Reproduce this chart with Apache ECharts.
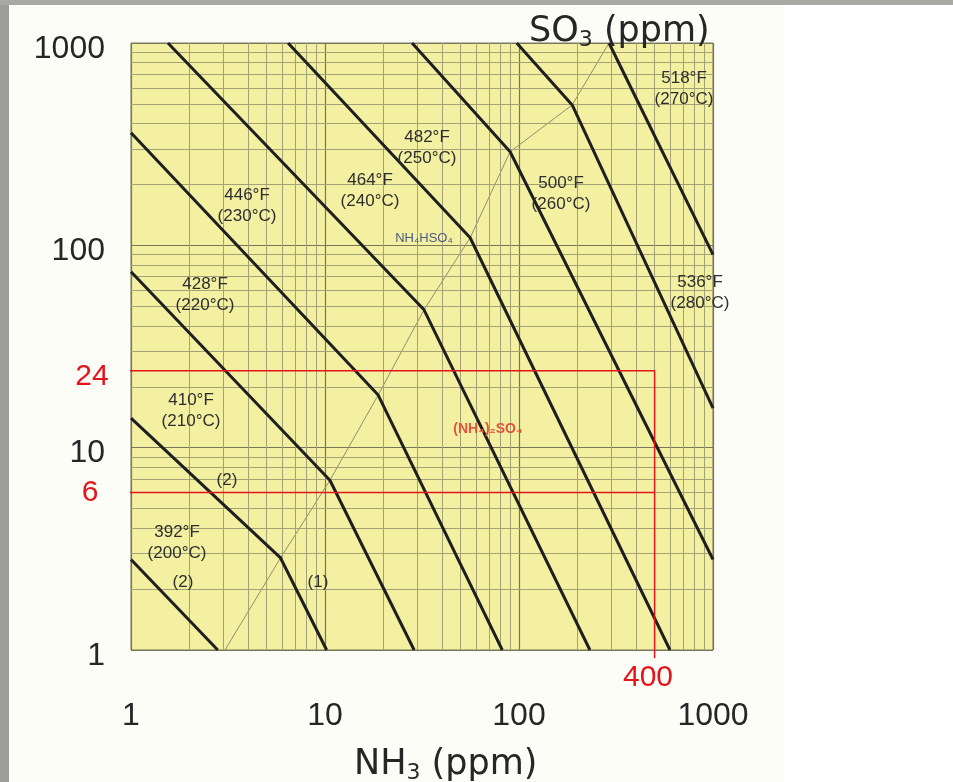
<!DOCTYPE html>
<html>
<head>
<meta charset="utf-8">
<script src="https://cdn.jsdelivr.net/npm/echarts@6/dist/echarts.min.js"></script>
<style>
  html, body { margin: 0; padding: 0; background: #fdfdf7; }
  #chart-container { width: 953px; height: 782px; }
</style>
</head>
<body>
<div id="chart-container"></div>
<script>
// ticks on both log axes
var tickValues = [1, 10, 100, 1000];
var minorValues = [2, 3, 4, 5, 6, 7, 8, 9, 20, 30, 40, 50, 60, 70, 80, 90, 200, 300, 400, 500, 600, 700, 800, 900];

// [NH3 ppm, SO3 ppm], one polyline per temperature
var t392 = [[1, 2.8], [2.8, 1]];
var t410 = [[1, 14], [5.9, 2.85], [10.2, 1]];
var t428 = [[1, 74], [10.6, 6.9], [28.8, 1]];
var t446 = [[1, 360], [18.8, 18.2], [82, 1]];
var t464 = [[1.55, 1000], [32.4, 48], [232, 1]];
var t482 = [[6.45, 1000], [56, 109], [600, 1]];
var t500 = [[28.1, 1000], [90, 290], [1000, 2.8]];
var t518 = [[97.3, 1000], [188, 494], [1000, 15.7]];
var t536 = [[291, 1000], [1000, 90]];

// NH4HSO4 / (NH4)2SO4 boundary
var boundary = [[3.05, 1], [5.9, 2.85], [10.6, 6.9], [18.8, 18.2], [32.4, 48], [56, 109], [90, 290], [188, 494], [291, 1000]];

// red reference lines
var refSO3 = [24, 6];
var refNH3 = 500;      // where the vertical line sits
var refNH3Text = '400'; // what is printed under it
var refStartNH3 = 0.85;
var refEndSO3 = 0.91;

var curves = [t392, t410, t428, t446, t464, t482, t500, t518, t536];
var curveNames = ['392F', '410F', '428F', '446F', '464F', '482F', '500F', '518F', '536F'];

var dom = document.getElementById('chart-container');
var myChart = echarts.init(dom, null, { renderer: 'canvas' });

var labelFont = "'Liberation Sans', Arial, sans-serif";
var textFont = "'Liberation Sans', Arial, sans-serif";

var series = curves.map(function (pts, i) {
  return {
    name: curveNames[i],
    type: 'line',
    data: pts,
    showSymbol: false,
    silent: true,
    lineStyle: { color: '#1f1f1f', width: 3 },
    z: 5
  };
});

series.push({
  name: 'boundary',
  type: 'line',
  data: boundary,
  showSymbol: false,
  silent: true,
  lineStyle: { color: '#8e8e6a', width: 1 },
  z: 4
});

// minor grid, drawn through the axes
series.push({
  name: 'minor',
  type: 'line',
  data: [],
  silent: true,
  markLine: {
    silent: true,
    symbol: 'none',
    label: { show: false },
    lineStyle: { color: '#a3a276', width: 1, type: 'solid' },
    data: minorValues.map(function (v) { return { xAxis: v }; })
      .concat(minorValues.map(function (v) { return { yAxis: v }; }))
  },
  z: 2
});

// red reference lines
series.push({
  name: 'ref24',
  type: 'line',
  clip: false,
  showSymbol: false,
  silent: true,
  data: [[refStartNH3, refSO3[0]], [refNH3, refSO3[0]], [refNH3, refEndSO3]],
  lineStyle: { color: '#e3141b', width: 1.5 },
  z: 6
});
series.push({
  name: 'ref6',
  type: 'line',
  clip: false,
  showSymbol: false,
  silent: true,
  data: [[refStartNH3, refSO3[1]], [refNH3, refSO3[1]]],
  lineStyle: { color: '#e3141b', width: 1.5 },
  z: 6
});

function note(text, x, y, extra) {
  return {
    type: 'text',
    x: x,
    y: y,
    z: 20,
    style: Object.assign({
      text: text,
      font: '17px ' + textFont,
      fill: '#2e2e2e',
      align: 'center',
      verticalAlign: 'middle',
      lineHeight: 21
    }, extra || {})
  };
}

var titleRich = {
  a: { fontSize: 35, fontFamily: 'DejaVu Sans', fontWeight: 'normal', color: '#262626' },
  b: { fontSize: 22, fontFamily: 'DejaVu Sans', fontWeight: 'normal', color: '#262626', padding: [16, 0, 0, 0] }
};

var option = {
  backgroundColor: '#fdfdf7',
  animation: false,
  title: [
    {
      text: '{a|SO}{b|3}{a| (ppm)}',
      left: 524,
      top: 8,
      textStyle: { fontWeight: 'normal', rich: titleRich }
    },
    {
      text: '{a|NH}{b|3}{a| (ppm)}',
      left: 349,
      top: 741,
      textStyle: { fontWeight: 'normal', rich: titleRich }
    }
  ],
  grid: {
    left: 131,
    top: 43,
    width: 582,
    height: 607,
    show: true,
    backgroundColor: '#f3f0a2',
    borderColor: '#7c7b5c',
    borderWidth: 1
  },
  xAxis: {
    type: 'log',
    logBase: 10,
    min: 1,
    max: 1000,
    axisLine: { show: false },
    axisTick: { show: false },
    axisLabel: {
      margin: 50,
      fontSize: 32,
      fontFamily: labelFont,
      color: '#262626',
      formatter: function (v) { return tickValues.indexOf(v) >= 0 ? String(v) : ''; }
    },
    splitLine: { show: true, lineStyle: { color: '#77765a', width: 1.2 } }
  },
  yAxis: {
    type: 'log',
    logBase: 10,
    min: 1,
    max: 1000,
    axisLine: { show: false },
    axisTick: { show: false },
    axisLabel: {
      margin: 26,
      color: '#262626',
      formatter: function (v) { return tickValues.indexOf(v) >= 0 ? '{v|' + v + '}' : ''; },
      rich: {
        v: { fontSize: 32, fontFamily: labelFont, color: '#262626', padding: [12, 0, 0, 0] }
      }
    },
    splitLine: { show: true, lineStyle: { color: '#77765a', width: 1.2 } }
  },
  series: series,
  graphic: [
    // scan edges
    { type: 'rect', shape: { x: 0, y: 0, width: 9, height: 782 }, style: { fill: '#9d9d9b' }, z: 30 },
    { type: 'rect', shape: { x: 0, y: 0, width: 953, height: 5 }, style: { fill: '#a9a9a4' }, z: 30 },
    { type: 'rect', shape: { x: 784, y: 5, width: 169, height: 777 }, style: { fill: '#fefefe' }, z: 0 },

    note('518°F\n(270°C)', 684, 89),
    note('482°F\n(250°C)', 427, 148),
    note('464°F\n(240°C)', 370, 191),
    note('500°F\n(260°C)', 561, 194),
    note('446°F\n(230°C)', 247, 206),
    note('536°F\n(280°C)', 700, 293),
    note('428°F\n(220°C)', 205, 295),
    note('410°F\n(210°C)', 191, 411),
    note('392°F\n(200°C)', 177, 543),
    note('(2)', 227, 480),
    note('(2)', 183, 582),
    note('(1)', 318, 582),
    note('NH₄HSO₄', 424, 238, { font: '13px ' + textFont, fill: '#4b5a86' }),
    note('(NH₄)₂SO₄', 488, 429, { font: 'bold 14px ' + textFont, fill: '#e2553f' }),

    note(String(refSO3[0]), 92, 377, { font: '30px ' + textFont, fill: '#e3141b' }),
    note(String(refSO3[1]), 90, 493, { font: '30px ' + textFont, fill: '#e3141b' }),
    note(refNH3Text, 648, 678, { font: '30px ' + textFont, fill: '#e3141b' })
  ]
};

if (option && typeof option === 'object') {
  myChart.setOption(option);
}

window.addEventListener('resize', myChart.resize);
</script>
</body>
</html>
